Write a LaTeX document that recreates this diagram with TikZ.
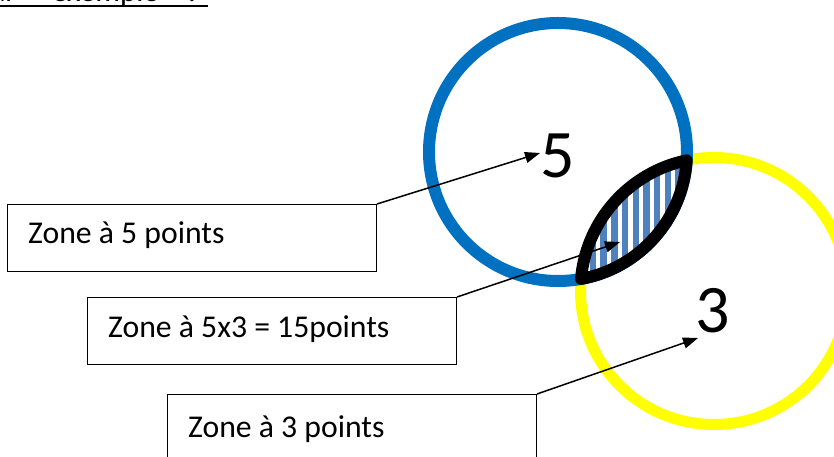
\documentclass[tikz,border=0pt]{standalone}
\usepackage{fontspec}
\setmainfont{Carlito}
\usetikzlibrary{arrows.meta}
\definecolor{ringblue}{HTML}{0070C0}
\definecolor{ringyellow}{HTML}{FFFF00}
\definecolor{hatchblue}{HTML}{4F81BD}
\begin{document}
\begin{tikzpicture}[x=1bp,y=1bp,
  zonebox/.style={draw=black,line width=1bp,fill=white,rectangle,inner sep=0,anchor=north west,minimum width=369bp},
  zonetext/.style={anchor=base west,inner sep=0,font=\fontsize{31.7bp}{38bp}\selectfont},
  bignum/.style={anchor=base,inner sep=0,font=\fontsize{68bp}{80bp}\selectfont},
  pointer/.style={line width=1.5bp,-{Triangle[length=15bp,width=11bp]}},
  lensline/.style={black,line width=12bp,line join=round}]
\useasboundingbox (0,0) rectangle (834,-457);
\clip (0,0) rectangle (834,-457);

% heading (cut at the top edge, as in the reference)
\node[anchor=base west,inner sep=0,font=\fontsize{31bp}{37bp}\selectfont] (heading) at (-25,-1.5) {Par\hspace{36bp}exemple\hspace{29bp}:};
\draw[line width=2.2bp] (0,-5.7) -- (208,-5.7);

% rings
\draw[ringyellow,line width=11bp] (714,-291) circle[radius=133.5bp];
\draw[ringblue,line width=12bp] (558,-152) circle[radius=129bp];

% lens (intersection)
\coordinate (lensA) at (686.7,-160.3);
\begin{scope}
  \clip (lensA) arc[start angle=-3.69,end angle=-79.73,radius=129bp]
        arc[start angle=174.80,end angle=101.80,radius=133.5bp] -- cycle;
  \fill[white] (570,-150) rectangle (700,-290);
  \foreach \k in {0,...,10}
    \draw[hatchblue,line width=6.5bp] (582.3+10.7*\k,-150) -- ++(0,-140);
\end{scope}
\draw[lensline] (lensA) arc[start angle=-3.69,end angle=-79.73,radius=129bp]
      arc[start angle=174.80,end angle=101.80,radius=133.5bp] -- cycle;

% numbers
\node[bignum] (five) at (558,-178) {5};
\node[bignum] (three) at (712.5,-333) {3};

% boxes
\node[zonebox,minimum height=67bp] (box5) at (7,-204) {};
\node[zonetext] (t5) at (28,-244) {Zone à 5 points};
\node[zonebox,minimum height=67bp] (box15) at (87,-297) {};
\node[zonetext] (t15) at (108,-338) {Zone à 5x3 = 15points};
\node[zonebox,minimum height=90bp] (box3) at (167,-394) {};
\node[zonetext] (t3) at (188,-437) {Zone à 3 points};

% pointers
\coordinate (tip5) at (540,-153);
\coordinate (tip15) at (620,-242);
\coordinate (tip3) at (698,-338);
\draw[pointer] (box5.north east) -- (tip5);
\draw[pointer] (box15.north east) -- (tip15);
\draw[pointer] (box3.north east) -- (tip3);
\end{tikzpicture}
\end{document}
